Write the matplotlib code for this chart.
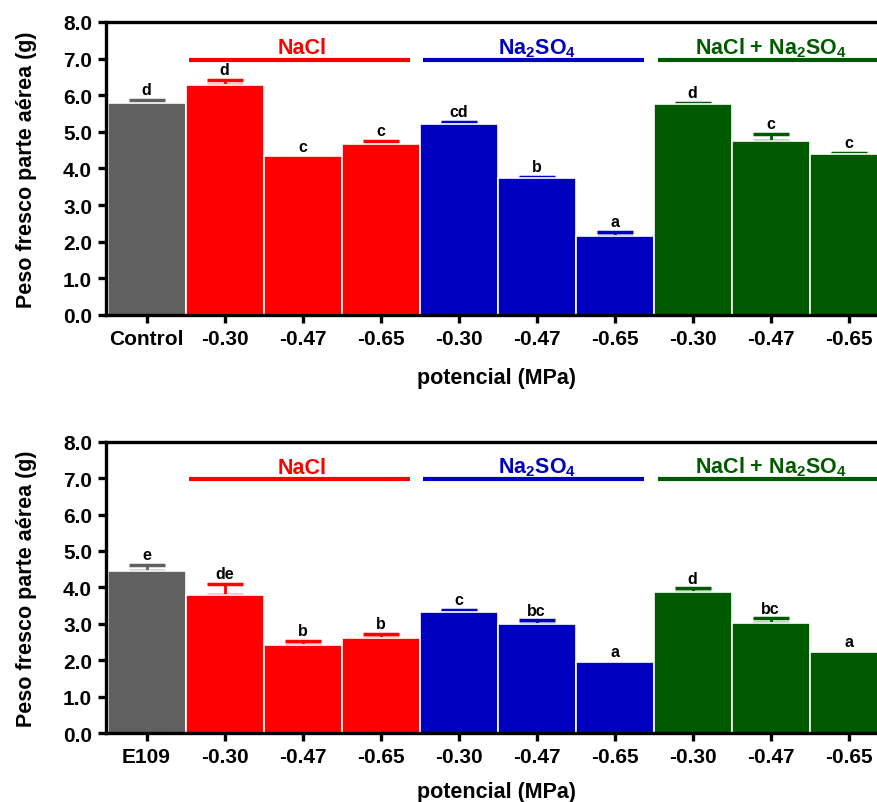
import matplotlib
matplotlib.use("Agg")
import matplotlib.pyplot as plt
import numpy as np

plt.rcParams['font.family'] = ['Liberation Sans', 'DejaVu Sans']
plt.rcParams['font.weight'] = 'bold'
plt.rcParams['mathtext.default'] = 'regular'

# data
x_labels_top = ["Control", "-0.30", "-0.47", "-0.65", "-0.30", "-0.47", "-0.65", "-0.30", "-0.47", "-0.65"]
x_labels_bot = ["E109", "-0.30", "-0.47", "-0.65", "-0.30", "-0.47", "-0.65", "-0.30", "-0.47", "-0.65"]

top_vals = [5.78, 6.28, 4.33, 4.67, 5.22, 3.73, 2.15, 5.76, 4.75, 4.39]
top_err = [0.09, 0.14, 0.0, 0.08, 0.05, 0.05, 0.12, 0.04, 0.20, 0.03]
top_letters = ["d", "d", "c", "c", "cd", "b", "a", "d", "c", "c"]

bot_vals = [4.44, 3.80, 2.42, 2.61, 3.33, 2.99, 1.96, 3.86, 3.03, 2.22]
bot_err = [0.17, 0.29, 0.11, 0.11, 0.06, 0.10, 0.0, 0.11, 0.12, 0.0]
bot_letters = ["e", "de", "b", "b", "c", "bc", "a", "d", "bc", "a"]

groups = ["NaCl", "Na$_2$SO$_4$", "NaCl + Na$_2$SO$_4$"]
group_idx = [(1, 3), (4, 6), (7, 9)]

gray = "#606060"
red = "#FF0000"
blue = "#0000C0"
green = "#005A00"
bar_colors = [gray, red, red, red, blue, blue, blue, green, green, green]
group_colors = [red, blue, green]


def draw(ax, vals, err, letters, xlabels, xpad):
    x = np.arange(len(vals))
    ax.bar(x, vals, width=1.0, color=bar_colors, edgecolor="white", linewidth=1.2, zorder=2)
    for i in range(len(vals)):
        if err[i] > 0:
            ax.errorbar(x[i], vals[i], yerr=[[0], [err[i]]], fmt="none", ecolor=bar_colors[i],
                        elinewidth=2, capsize=13, capthick=2.5, zorder=1)
        ax.annotate(letters[i], (x[i], vals[i] + err[i]), xytext=(0, 2), textcoords="offset points",
                    ha="center", va="bottom", fontsize=11.5, fontweight="bold")
    for g, (a, b), c in zip(groups, group_idx, group_colors):
        ax.plot([a - 0.45, b + 0.38], [6.97, 6.97], color=c, lw=3, solid_capstyle="butt", clip_on=False)
        ax.text((a + b) / 2, 7.15, g, color=c, ha="center", va="baseline", fontsize=15.5, fontweight="bold")
    ax.set_xlim(-0.52, 9.5)
    ax.set_ylim(0, 8)
    ax.set_yticks(np.arange(0, 8.1, 1.0))
    ax.set_yticklabels(["%.1f" % v for v in np.arange(0, 8.1, 1.0)])
    ax.set_xticks(x)
    ax.set_xticklabels(xlabels)
    for s in ax.spines.values():
        s.set_linewidth(2.4)
    ax.tick_params(axis="both", direction="out", length=6, width=2.4, labelsize=15, pad=4)
    ax.set_ylabel("Peso fresco parte aérea (g)", fontsize=15.5, fontweight="bold", labelpad=19)
    ax.set_xlabel("potencial (MPa)", fontsize=15.5, fontweight="bold", labelpad=xpad)


fig = plt.figure(figsize=(8.78, 8.03), dpi=100)
ax1 = fig.add_axes([0.1207, 0.6065, 0.8903, 0.3649])
ax2 = fig.add_axes([0.1207, 0.0859, 0.8903, 0.3628])
draw(ax1, top_vals, top_err, top_letters, x_labels_top, 14)
draw(ax2, bot_vals, bot_err, bot_letters, x_labels_bot, 11)

fig.savefig("out.png", dpi=100)
